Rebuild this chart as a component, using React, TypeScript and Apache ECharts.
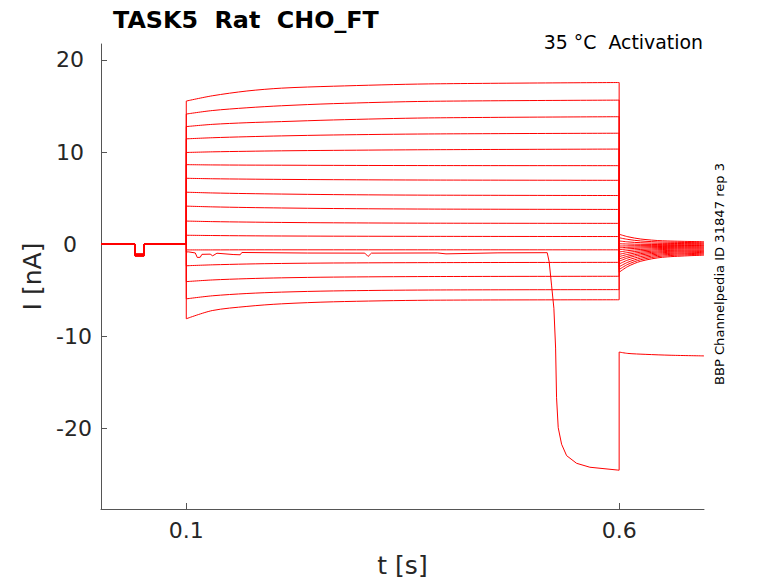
import React, { useEffect, useRef } from 'react';
import * as echarts from 'echarts';

// sampling times of the activation step (s) and current per sweep (nA)
const stepT = [0.1, 0.13, 0.17, 0.21, 0.27, 0.38, 0.6];
const stepI = [
  [15.53, 16.1, 16.62, 16.93, 17.14, 17.39, 17.54],
  [14.12, 14.5, 14.8, 15.02, 15.25, 15.5, 15.63],
  [12.76, 13.0, 13.18, 13.3, 13.48, 13.7, 13.83],
  [11.43, 11.55, 11.66, 11.75, 11.85, 11.96, 12.04],
  [9.95, 10.02, 10.08, 10.13, 10.18, 10.25, 10.32],
  [8.63, 8.6, 8.58, 8.57, 8.55, 8.53, 8.52],
  [7.15, 7.1, 7.06, 7.03, 7.0, 6.96, 6.93],
  [5.64, 5.56, 5.49, 5.44, 5.38, 5.32, 5.28],
  [4.13, 4.05, 3.98, 3.93, 3.87, 3.81, 3.77],
  [2.51, 2.45, 2.4, 2.36, 2.32, 2.28, 2.26],
  [0.97, 0.94, 0.91, 0.89, 0.87, 0.85, 0.83],
  [-0.62, -0.62, -0.61, -0.61, -0.61, -0.61, -0.61],
  [-2.34, -2.24, -2.15, -2.09, -2.04, -2.0, -1.97],
  [-4.06, -3.88, -3.74, -3.65, -3.57, -3.51, -3.48],
  [-5.93, -5.6, -5.35, -5.2, -5.07, -4.97, -4.93],
  [-8.09, -7.2, -6.75, -6.47, -6.25, -6.08, -6.03],
];

// tail currents after the step
const tailT = [0.6, 0.61, 0.625, 0.65, 0.698];
const tailI = [
  [-3.05, -2.42, -1.85, -1.42, -1.19],
  [-2.75, -2.19, -1.68, -1.29, -1.08],
  [-2.45, -1.96, -1.51, -1.16, -0.98],
  [-2.15, -1.72, -1.34, -1.04, -0.89],
  [-1.85, -1.49, -1.17, -0.92, -0.79],
  [-1.6, -1.3, -1.02, -0.81, -0.7],
  [-1.35, -1.1, -0.87, -0.7, -0.61],
  [-1.1, -0.9, -0.72, -0.58, -0.51],
  [-0.85, -0.7, -0.57, -0.47, -0.42],
  [-0.6, -0.51, -0.42, -0.36, -0.33],
  [-0.4, -0.34, -0.29, -0.25, -0.23],
  [-0.2, -0.18, -0.16, -0.15, -0.14],
  [0.05, 0.02, -0.01, -0.04, -0.05],
  [0.35, 0.25, 0.16, 0.09, 0.06],
  [0.7, 0.52, 0.35, 0.23, 0.16],
  [1.08, 0.81, 0.56, 0.37, 0.27],
];

// holding period with the short test pulse
const holdT = [0.0015, 0.0408, 0.0408, 0.0512, 0.0512, 0.1];
const dipI = [-1.05, -1.07, -1.09, -1.1, -1.12, -1.14, -1.15, -1.17, -1.19, -1.2, -1.22, -1.24, -1.25, -1.27, -1.28, -1.3];
const oddDip = -1.15;

// the sweep that breaks down near the end of the step
const oddT = [0.1, 0.1023, 0.1104, 0.1127, 0.1161, 0.1181, 0.1276, 0.1305, 0.1354, 0.1541, 0.1622, 0.1642, 0.24, 0.3062, 0.31, 0.3139, 0.39, 0.4, 0.46, 0.5169, 0.5192, 0.5219, 0.5246, 0.5266, 0.5277, 0.5296, 0.5335, 0.5393, 0.5508, 0.5662, 0.5977, 0.6];
const oddI = [-0.85, -0.83, -0.95, -1.44, -1.42, -1.1, -1.08, -1.26, -0.98, -1.12, -1.15, -0.9, -0.96, -0.97, -1.33, -0.97, -0.95, -1.05, -0.94, -0.92, -1.92, -4.44, -6.95, -11.27, -16.66, -19.9, -21.7, -22.94, -23.77, -24.2, -24.5, -24.52];
const oddTailT = [0.6, 0.61, 0.63, 0.66, 0.698];
const oddTailI = [-11.7, -11.85, -11.95, -12.05, -12.12];

const xTicks = [0.1, 0.6];
const yTicks = [-20, -10, 0, 10, 20];

const FONT = 'DejaVu Sans';
const RED = '#ff0000';
const AXIS = '#555555';
const TXT = '#262626';

const zip = (t: number[], v: number[]) => t.map((x, k) => [x, v[k]]);

const trace = (data: number[][], smooth = false) => ({
  type: 'line',
  data,
  smooth: smooth ? 0.3 : false,
  symbol: 'none',
  silent: true,
  clip: true,
  lineStyle: { color: RED, width: 1 },
});

const holdData = (dip: number, first: number) => [
  [holdT[0], 0], [holdT[1], 0], [holdT[2], dip], [holdT[3], dip], [holdT[4], 0], [holdT[5], 0], [0.1, first],
];

const App = () => {
  const chartRef = useRef(null);

  useEffect(() => {
    const chart = echarts.init(chartRef.current, null, { renderer: 'svg' });

    const series: any[] = [];
    stepI.forEach((vals, i) => {
      const tail = tailI[i];
      series.push(trace(holdData(dipI[i], vals[0])));
      series.push(trace(zip(stepT, vals), true));
      series.push(trace([[0.6, vals[vals.length - 1]], [0.6, tail[0]]]));
      series.push(trace(zip(tailT, tail), true));
    });
    series.push(trace(holdData(oddDip, oddI[0])));
    series.push(trace(zip(oddT, oddI)));
    series.push(trace([[0.6, oddI[oddI.length - 1]], [0.6, oddTailI[0]]]));
    series.push(trace(zip(oddTailT, oddTailI), true));

    const option = {
      animation: false,
      grid: { left: 101, top: 44, width: 603, height: 468 },
      xAxis: {
        type: 'value',
        min: 0.0015,
        max: 0.698,
        name: 't [s]',
        nameLocation: 'middle',
        nameGap: 44,
        nameTextStyle: { fontSize: 25, color: TXT, fontFamily: FONT },
        axisLine: { show: true, onZero: false, lineStyle: { color: AXIS, width: 1 } },
        axisTick: { show: true, inside: true, length: 6, customValues: xTicks, lineStyle: { color: AXIS } },
        axisLabel: {
          customValues: xTicks,
          formatter: (v: number) => String(v),
          fontSize: 22,
          color: TXT,
          fontFamily: FONT,
          margin: 10,
        },
        splitLine: { show: false },
      },
      yAxis: {
        type: 'value',
        min: -28.73,
        max: 21.72,
        name: 'I [nA]',
        nameLocation: 'middle',
        nameGap: 50,
        nameTextStyle: { fontSize: 25, color: TXT, fontFamily: FONT },
        axisLine: { show: true, onZero: false, lineStyle: { color: AXIS, width: 1 } },
        axisTick: { show: true, inside: true, length: 6, customValues: yTicks, lineStyle: { color: AXIS } },
        axisLabel: {
          customValues: yTicks,
          formatter: (v: number) => (v < 0 ? `{n|${v}}` : `{p|${v}}`),
          align: 'center',
          margin: 31,
          fontSize: 22,
          color: TXT,
          fontFamily: FONT,
          rich: {
            n: { fontSize: 22, color: TXT, fontFamily: FONT, padding: [0, 0, 0, 8] },
            p: { fontSize: 22, color: TXT, fontFamily: FONT },
          },
        },
        splitLine: { show: false },
      },
      graphic: [
        {
          type: 'text',
          x: 113,
          y: 20,
          style: { text: 'TASK5  Rat  CHO_FT', font: `bold 23.8px "${FONT}"`, fill: '#000', textVerticalAlign: 'middle' },
        },
        {
          type: 'text',
          x: 703,
          y: 41.5,
          style: { text: '35 °C  Activation', font: `18.9px "${FONT}"`, fill: '#000', textAlign: 'right', textVerticalAlign: 'middle' },
        },
        {
          type: 'text',
          x: 719,
          y: 274,
          rotation: Math.PI / 2,
          style: { text: 'BBP Channelpedia ID 31847 rep 3', font: `13.1px "${FONT}"`, fill: '#000', textAlign: 'center', textVerticalAlign: 'middle' },
        },
      ],
      series,
    };

    chart.setOption(option);

    return () => {
      chart.dispose();
    };
  }, []);

  return (
    <div ref={chartRef} style={{ position: 'fixed', left: 0, top: 0, width: '778px', height: '583px', background: '#fff' }} />
  );
};

export default App;
